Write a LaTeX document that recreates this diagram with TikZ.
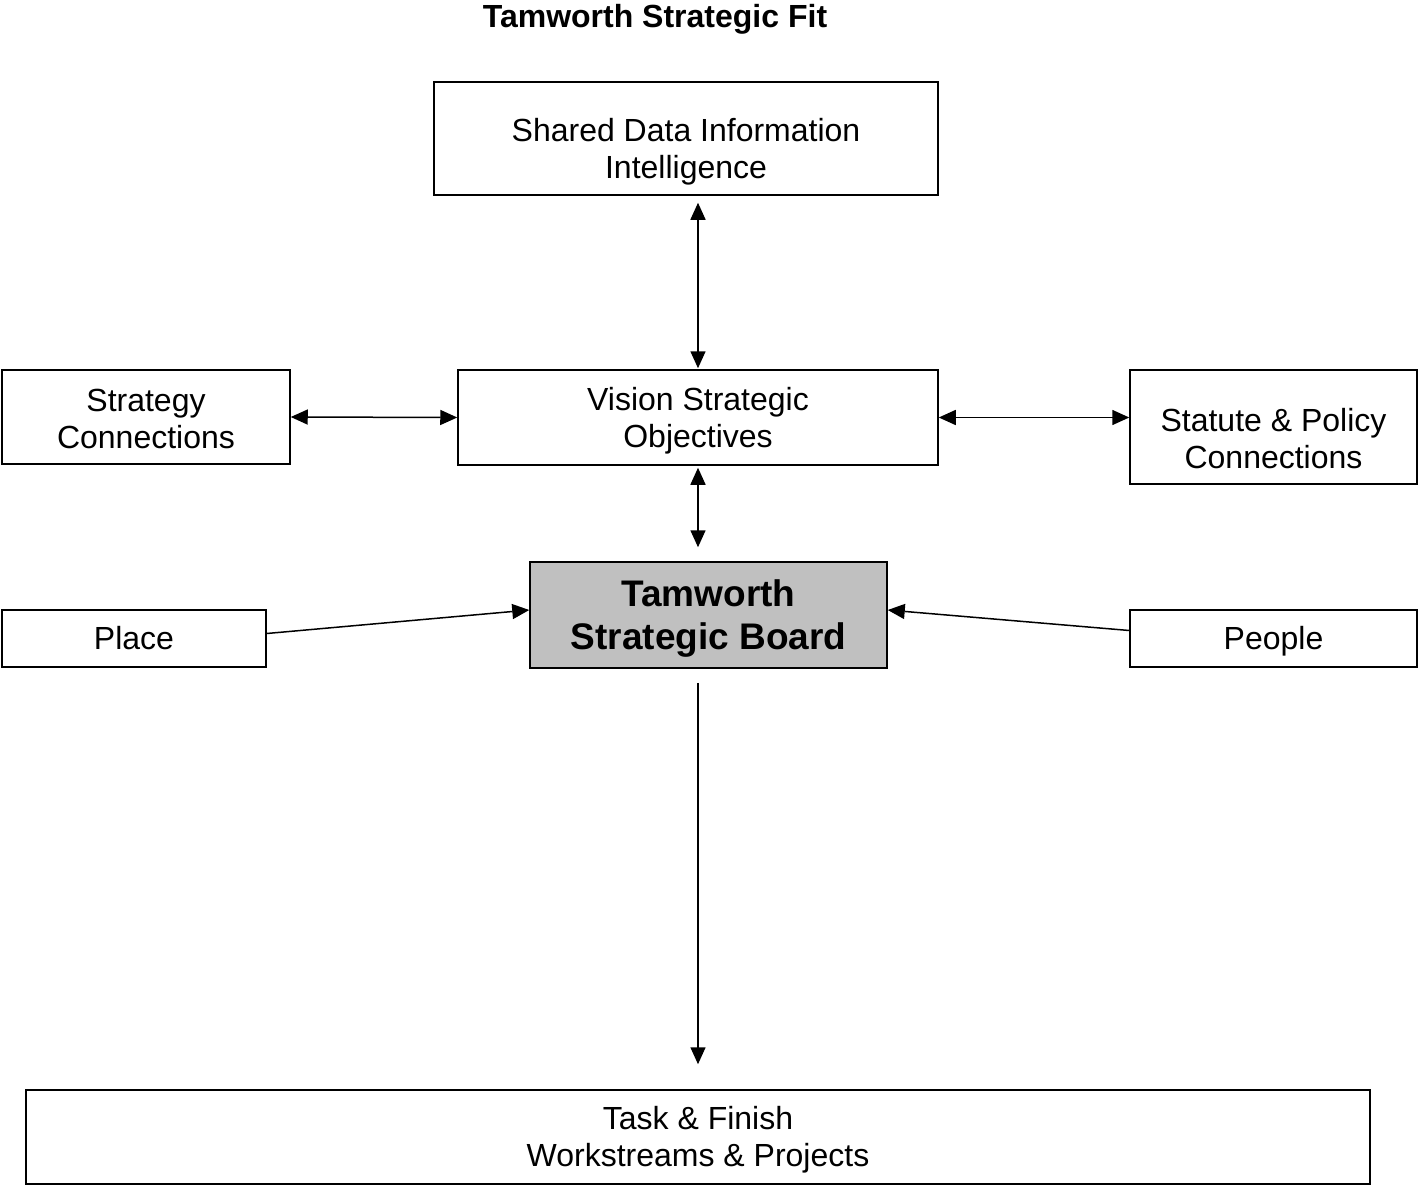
\documentclass[tikz,border=0pt]{standalone}
\usepackage{fontspec}
\setmainfont{Liberation Sans}
\usetikzlibrary{arrows.meta}
\definecolor{boardgray}{HTML}{C0C0C0}
\tikzset{
  box/.style={draw, line width=1.5pt, inner sep=0pt},
  txt/.style={align=center, font=\fontsize{32}{37}\selectfont, yshift=-3pt},
  both/.style={line width=1.5pt, {Triangle[length=17pt,width=15pt]}-{Triangle[length=17pt,width=15pt]}},
  one/.style={line width=1.5pt, -{Triangle[length=17pt,width=15pt]}},
}

\begin{document}
\begin{tikzpicture}[x=1pt,y=-1pt]
      \useasboundingbox (0,0) rectangle (1418,1185);
      \node[font=\bfseries\fontsize{32}{37}\selectfont] (title) at (655,19) {Tamworth Strategic Fit};

      \node[box, minimum width=504pt, minimum height=113pt,
        label={[txt, yshift=-10pt]center:Shared Data Information\\Intelligence}] (shared) at (686,138.5) {};
      \node[box, minimum width=480pt, minimum height=95pt,
        label={[txt]center:Vision Strategic\\Objectives}] (vision) at (698,417.5) {};
      \node[box, minimum width=288pt, minimum height=94pt,
        label={[txt, yshift=1pt]center:Strategy\\Connections}] (strategy) at (146,417) {};
      \node[box, minimum width=287pt, minimum height=114pt,
        label={[txt, yshift=-9pt]center:Statute \& Policy\\Connections}] (statute) at (1273.5,427) {};
      \node[box, fill=boardgray, minimum width=357pt, minimum height=106pt,
        label={[txt, yshift=-1pt, font=\bfseries\fontsize{37}{43}\selectfont]center:Tamworth\\Strategic Board}]
        (board) at (708.5,615) {};
      \node[box, minimum width=264pt, minimum height=57pt,
        label={[txt, yshift=3pt]center:Place}] (place) at (134,638.5) {};
      \node[box, minimum width=287pt, minimum height=57pt,
        label={[txt]center:People}] (people) at (1273.5,638.5) {};
      \node[box, minimum width=1344pt, minimum height=94pt,
        label={[txt]center:Task \& Finish\\Workstreams \& Projects}] (task) at (698,1137) {};

      \draw[both, shorten <=1pt, shorten >=7pt] (vision.north) -- (vision.north |- shared.south);
      \draw[both] (strategy.east) -- (vision.west);
      \draw[both] (vision.east) -- (vision.east -| statute.west);
      \draw[both, shorten <=2pt, shorten >=14pt] (vision.south) -- (vision.south |- board.north);
      \draw[one] ([yshift=5pt]place.east) -- ([yshift=5pt]board.west);
      \draw[one] ([yshift=8pt]people.west) -- ([yshift=5pt]board.east);
      \draw[one, shorten <=14pt, shorten >=25pt] (board.south -| task.north) -- (task.north);
    \end{tikzpicture}
\end{document}
